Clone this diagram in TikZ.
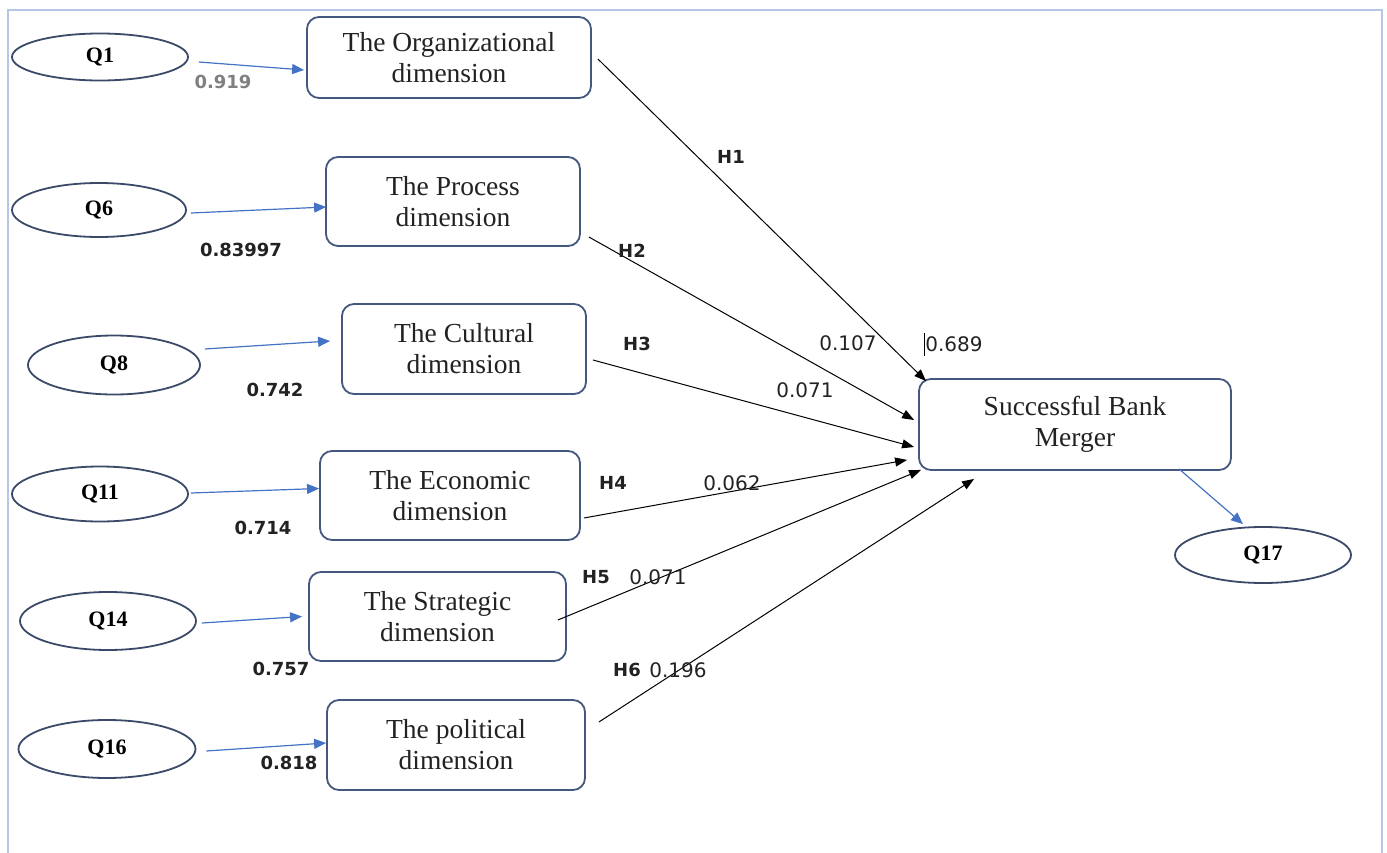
\documentclass[tikz,border=0pt]{standalone}
\usepackage{fontspec}
\setmainfont{Liberation Serif}
\newfontfamily\numfont{DejaVu Sans}
\usetikzlibrary{arrows.meta,shapes.geometric}
\definecolor{boxline}{HTML}{44577F}
\definecolor{ellline}{HTML}{3B4A68}
\definecolor{bluearr}{HTML}{4472C4}
\definecolor{frameblue}{HTML}{B4C7E7}
\definecolor{txt}{HTML}{222222}
\tikzset{
  dimbox/.style={draw=boxline, line width=1.8pt, rounded corners=12pt, inner sep=0pt, align=center,
    text=txt, font=\fontsize{27.5}{31}\selectfont},
  qell/.style={draw=ellline, line width=1.8pt, ellipse, inner sep=0pt, text=black,
    font=\fontsize{22}{24}\selectfont\bfseries},
  bluearrow/.style={draw=bluearr, line width=1.2pt, -{Triangle[length=12pt,width=10pt]}},
  blackarrow/.style={draw=black, line width=1pt, -{Triangle[length=12pt,width=9pt]}},
  loadlab/.style={font=\numfont\fontsize{18}{20}\selectfont\bfseries, text=txt},
  hlab/.style={font=\numfont\fontsize{18}{20}\selectfont\bfseries, text=txt},
  coef/.style={font=\numfont\fontsize{20}{22}\selectfont, text=txt},
}
\begin{document}
\begin{tikzpicture}[x=1pt,y=-1pt]
\useasboundingbox (0,0) rectangle (1387,853);
\draw[frameblue, line width=1.2pt] (8,860) -- (8,10) -- (1382,10) -- (1382,860);

% ellipses
\node[qell, minimum width=176pt, minimum height=47pt] (q1) at (100,57) {Q1};
\node[qell, minimum width=174pt, minimum height=54pt] (q6) at (99,210) {Q6};
\node[qell, minimum width=172pt, minimum height=59pt] (q8) at (114,365) {Q8};
\node[qell, minimum width=176pt, minimum height=55pt] (q11) at (100,494) {Q11};
\node[qell, minimum width=176pt, minimum height=58pt] (q14) at (108,621) {Q14};
\node[qell, minimum width=177pt, minimum height=58pt] (q16) at (107,749) {Q16};
\node[qell, minimum width=176pt, minimum height=56pt] (q17) at (1263,555) {Q17};

% boxes
\node[dimbox, minimum width=284pt, minimum height=81pt] (org) at (449,57.5) {The Organizational\\dimension};
\node[dimbox, minimum width=254pt, minimum height=89pt] (proc) at (453,201.5) {The Process\\dimension};
\node[dimbox, minimum width=244pt, minimum height=90pt] (cult) at (464,349) {The Cultural\\dimension};
\node[dimbox, minimum width=260pt, minimum height=89pt] (econ) at (450,495.5) {The Economic\\dimension};
\node[dimbox, minimum width=257pt, minimum height=89pt] (strat) at (437.5,616.5) {The Strategic\\dimension};
\node[dimbox, minimum width=258pt, minimum height=90pt] (pol) at (456,745) {The political\\dimension};
\node[dimbox, minimum width=312pt, minimum height=91pt] (sbm) at (1075,424.5) {Successful Bank\\Merger};

% blue loading arrows
\draw[bluearrow] ([shift={(10,5)}]q1.east) -- ([shift={(-2,12.5)}]org.west);
\draw[bluearrow] ([shift={(4,3)}]q6.east) -- ([shift={(1,5.5)}]proc.west);
\draw[bluearrow] ([shift={(4,-16)}]q8.east) -- ([shift={(-11,-8)}]cult.west);
\draw[bluearrow] ([shift={(2,-1)}]q11.east) -- ([shift={(0,-7)}]econ.west);
\draw[bluearrow] ([shift={(5,2)}]q14.east) -- ([shift={(-6,0)}]strat.west);
\draw[bluearrow] ([shift={(10,2)}]q16.east) -- ([shift={(0,-2)}]pol.west);
\draw[bluearrow] ([shift={(104,-2)}]sbm.south) -- ([shift={(-20,-2)}]q17.north);

% black structural arrows
\draw[blackarrow] ([shift={(6,1.5)}]org.east) -- ([shift={(8,3)}]sbm.north west);
\draw[blackarrow] ([shift={(8,35.5)}]proc.east) -- ([shift={(-4,-4.5)}]sbm.west);
\draw[blackarrow] ([shift={(6,11)}]cult.east) -- ([shift={(-4,22.5)}]sbm.west);
\draw[blackarrow] ([shift={(3,22.5)}]econ.east) -- ([shift={(-11,-11)}]sbm.south west);
\draw[blackarrow] ([shift={(-9,3.5)}]strat.east) -- ([shift={(3,-1)}]sbm.south west);
\draw[blackarrow] ([shift={(13,-23)}]pol.east) -- ([shift={(56,8)}]sbm.south west);

% loading labels
\node[loadlab, text=gray] (l1) at (223,82) {0.919};
\node[loadlab] (l6) at (241,250) {0.83997};
\node[loadlab] (l8) at (275,390) {0.742};
\node[loadlab] (l11) at (263,528) {0.714};
\node[loadlab] (l14) at (281,669) {0.757};
\node[loadlab] (l16) at (289,763) {0.818};

% hypothesis labels
\node[hlab] (h1) at (731,157) {H1};
\node[hlab] (h2) at (632,251) {H2};
\node[hlab] (h3) at (637,344) {H3};
\node[hlab] (h4) at (613,483) {H4};
\node[hlab] (h5) at (596,577) {H5};
\node[hlab] (h6) at (627,670) {H6};

% coefficients
\node[coef] (c107) at (848,343) {0.107};
\node[coef] (c689) at (954,344) {0.689};
\draw[black, line width=0.8pt] (924,333) -- (924,356);
\node[coef] (c071a) at (805,390) {0.071};
\node[coef] (c062) at (732,483) {0.062};
\node[coef] (c071b) at (658,577) {0.071};
\node[coef] (c196) at (678,670) {0.196};
\end{tikzpicture}
\end{document}
